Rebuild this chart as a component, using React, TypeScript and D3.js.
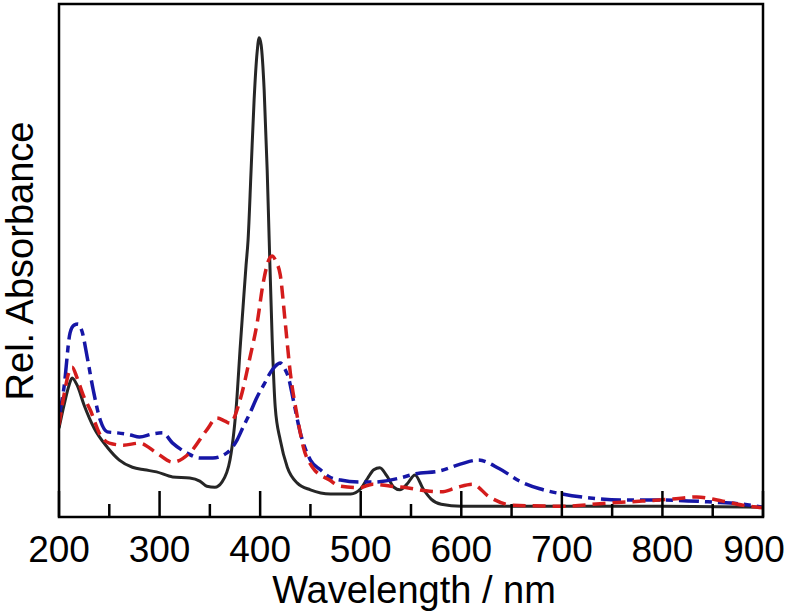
import React from "react";
import * as d3 from "d3";

const blackWl = [200,205,210,213,218,225,235,248,260,273,285,297,313,330,340,347,355,362,370,377,380,383,386,388,391,394,397,399,401,404,407,409,412,415,420,427,437,450,470,490,500,507,513,519,526,533,539,546,554,562,570,580,600,700,800,900];
const blackAbs = [17.3,21.8,25.7,27.1,25.7,21.8,17.3,13.6,11.1,9.7,9.2,8.8,7.8,7.6,7.0,6.0,5.8,6.8,11.1,23.4,32.6,40.9,49.1,54.0,67.6,81.3,90.6,93.4,92.0,83.2,67.6,54.0,34.5,21.4,15.0,9.7,6.6,5.3,4.5,4.5,5.5,7.6,9.2,9.6,8.0,5.8,5.3,6.4,8.2,5.5,3.5,2.5,2.1,2.1,2.1,1.9];

const redWl = [200,205,210,213,218,224,231,241,250,264,280,297,313,330,347,357,365,370,380,390,397,403,409,412,416,420,425,430,437,443,452,469,480,499,512,530,546,565,580,595,611,628,651,700,745,780,810,834,860,880,900];
const redAbs = [17.9,23.8,28.3,29.2,27.1,23.8,20.9,16.0,14.4,14.0,14.4,12.5,10.7,12.5,17.0,19.3,18.7,18.3,22.8,31.2,37.8,45.6,50.3,50.9,49.7,47.2,37.8,28.1,19.5,13.6,9.7,7.2,6.0,5.7,6.4,6.0,5.7,5.1,4.9,5.7,6.4,3.9,2.3,2.1,2.7,3.1,3.5,3.9,3.1,2.3,1.8];

const blueWl = [200,205,211,215,219,223,228,234,241,248,258,271,280,293,303,313,327,340,353,367,377,383,390,397,404,410,415,420,425,428,433,440,450,460,469,480,499,512,539,554,579,599,617,638,658,678,700,728,758,800,850,880,900];
const blueAbs = [19.5,25.3,35.9,37.4,37.6,36.1,31.2,24.8,18.9,16.6,16.4,16.0,15.6,16.2,16.4,14.4,12.5,11.5,11.5,12.5,15.0,17.5,20.3,23.4,25.9,28.1,29.4,30.0,28.7,27.3,22.8,16.4,11.1,9.2,7.8,7.2,6.8,6.8,7.6,8.4,9.0,10.3,11.1,9.4,7.0,5.5,4.5,3.7,3.3,3.3,2.9,2.5,1.9];

const majorTicks = [200,300,400,500,600,700,800,900];
const minorTicks = [250,350,450,550,650,750,850];
const tickLabels = ["200","300","400","500","600","700","800","900"];

const W = 797, H = 616;
const left = 59, right = 763, top = 4, bottom = 517;

export default function App() {
  const x = d3.scaleLinear().domain([200, 900]).range([left, right]);
  const y = d3.scaleLinear().domain([0, 100]).range([bottom, top]);
  const line = d3.line<[number, number]>()
    .x(d => x(d[0]))
    .y(d => y(d[1]))
    .curve(d3.curveMonotoneX);
  const mk = (wl: number[], ab: number[]) => line(wl.map((w, i) => [w, ab[i]] as [number, number])) || "";
  const font = "Arial, 'Liberation Sans', sans-serif";
  return (
    <svg width={W} height={H} style={{ position: "absolute", left: 0, top: 0, background: "#fff" }}>
      <rect x={0} y={0} width={W} height={H} fill="#fff" />
      <defs>
        <clipPath id="plot">
          <rect x={left} y={top} width={right - left} height={bottom - top} />
        </clipPath>
      </defs>
      <g clipPath="url(#plot)" fill="none" strokeLinejoin="round">
        <path d={mk(blackWl, blackAbs)} stroke="#262626" strokeWidth={3} />
        <path d={mk(blueWl, blueAbs)} stroke="#1616a6" strokeWidth={3.5} strokeDasharray="20,6,7,6" />
        <path d={mk(redWl, redAbs)} stroke="#d41c1c" strokeWidth={3.5} strokeDasharray="13,7" />
      </g>
      {majorTicks.map(t => (
        <line key={"M" + t} x1={x(t)} x2={x(t)} y1={bottom} y2={bottom - 26} stroke="#000" strokeWidth={2.5} />
      ))}
      {minorTicks.map(t => (
        <line key={"m" + t} x1={x(t)} x2={x(t)} y1={bottom} y2={bottom - 13} stroke="#000" strokeWidth={2.5} />
      ))}
      <rect x={left} y={top} width={right - left} height={bottom - top} fill="none" stroke="#000" strokeWidth={2.5} />
      {majorTicks.map((t, i) => (
        <text key={"l" + t} x={t === 900 ? x(t) - 9 : x(t)} y={562} textAnchor="middle" fontFamily={font} fontSize={37} fill="#000">
          {tickLabels[i]}
        </text>
      ))}
      <text x={414} y={603} textAnchor="middle" fontFamily={font} fontSize={38} fill="#000">Wavelength / nm</text>
      <text transform="translate(33,261) rotate(-90)" textAnchor="middle" fontFamily={font} fontSize={38} fill="#000">Rel. Absorbance</text>
    </svg>
  );
}
